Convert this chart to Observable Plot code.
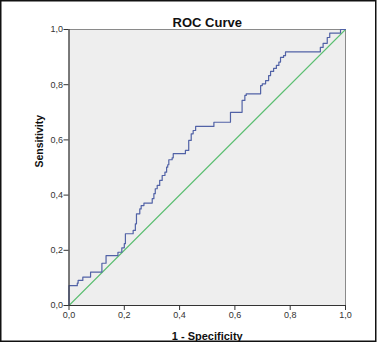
<!DOCTYPE html>
<html>
<head>
<meta charset="utf-8">
<script src="https://cdn.jsdelivr.net/npm/d3@7"></script>
<script src="https://cdn.jsdelivr.net/npm/@observablehq/plot@0.6"></script>
<style>
  body { margin: 0; background: #fff; }
  svg { display: block; }
</style>
</head>
<body>
<div id="chart"></div>
<script>
const title = "ROC Curve";
const xLabel = "1 - Specificity";
const yLabel = "Sensitivity";
const ticks = [0, 0.2, 0.4, 0.6, 0.8, 1.0];

// ROC step points: at fpr, tpr rises to the given value
const fpr = [0.000, 0.000, 0.030, 0.033, 0.050, 0.078, 0.119, 0.134, 0.177, 0.191, 0.200, 0.204, 0.232, 0.240, 0.244, 0.256, 0.261, 0.271, 0.301, 0.307, 0.312, 0.319, 0.328, 0.337, 0.347, 0.353, 0.357, 0.361, 0.373, 0.377, 0.421, 0.433, 0.442, 0.449, 0.458, 0.524, 0.584, 0.626, 0.636, 0.641, 0.693, 0.699, 0.711, 0.722, 0.729, 0.740, 0.750, 0.759, 0.765, 0.776, 0.783, 0.909, 0.919, 0.934, 0.943, 0.982, 1.000];
const tpr = [0.000, 0.072, 0.081, 0.091, 0.103, 0.121, 0.153, 0.181, 0.193, 0.209, 0.224, 0.260, 0.272, 0.296, 0.332, 0.350, 0.362, 0.371, 0.387, 0.405, 0.423, 0.435, 0.453, 0.471, 0.483, 0.501, 0.510, 0.528, 0.535, 0.550, 0.562, 0.598, 0.622, 0.634, 0.649, 0.664, 0.700, 0.743, 0.761, 0.767, 0.797, 0.803, 0.815, 0.833, 0.848, 0.859, 0.870, 0.882, 0.899, 0.905, 0.919, 0.935, 0.950, 0.971, 0.987, 1.000, 1.000];
const refX = [0, 1];
const refY = [0, 1];

const roc = fpr.map((x, i) => ({x, y: tpr[i]}));
const ref = refX.map((x, i) => ({x, y: refY[i]}));
const fmt = d => d.toFixed(1).replace(".", ",");

const W = 378, H = 343;
const chart = Plot.plot({
  width: W,
  height: H,
  marginLeft: 68.5,
  marginRight: 33,
  marginTop: 29,
  marginBottom: 38,
  style: {fontFamily: "'Liberation Sans', Arial, sans-serif", background: "#fff", color: "#333"},
  x: {domain: [0, 1]},
  y: {domain: [0, 1]},
  marks: [
    Plot.frame({fill: "#eeeeee", stroke: "#8a8a8a"}),
    Plot.line(ref, {x: "x", y: "y", stroke: "#5cbf72", strokeWidth: 1.1}),
    Plot.line(roc, {x: "x", y: "y", curve: "step-after", stroke: "#5162a6", strokeWidth: 1.2}),
    Plot.axisX({ticks, tickFormat: fmt, tickSize: 5, tickPadding: 1, fontSize: 9, label: null, stroke: "#333"}),
    Plot.axisY({ticks, tickFormat: fmt, tickSize: 5, tickPadding: 1, fontSize: 9, label: null, stroke: "#333"}),
    Plot.ruleX([0], {stroke: "#333"}),
    Plot.ruleY([0], {stroke: "#333"}),
    Plot.text([title], {frameAnchor: "top", dy: -12, fontSize: 13, fontWeight: "bold", fill: "#111"}),
    Plot.text([yLabel], {frameAnchor: "left", dx: -29, rotate: -90, fontSize: 10.5, fontWeight: "bold", fill: "#111"}),
    Plot.text([xLabel], {frameAnchor: "bottom", dy: 34, fontSize: 11, fontWeight: "bold", fill: "#111"})
  ]
});
document.getElementById("chart").appendChild(chart);

// outer border of the picture
const svg = d3.select(chart);
svg.append("rect").attr("x", 0).attr("y", 341).attr("width", W).attr("height", 2).attr("fill", "#fff");
svg.append("rect").attr("x", 376.5).attr("y", 0).attr("width", 2).attr("height", H).attr("fill", "#fff");
svg.append("rect").attr("x", 0.75).attr("y", 0.75).attr("width", 375).attr("height", 340.5)
  .attr("fill", "none").attr("stroke", "#111").attr("stroke-width", 1.5);
</script>
</body>
</html>
